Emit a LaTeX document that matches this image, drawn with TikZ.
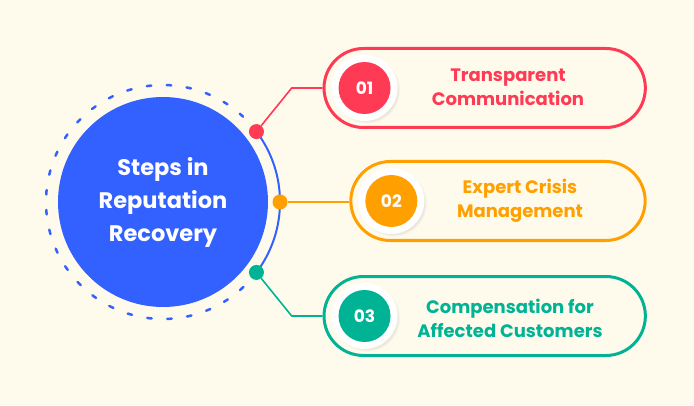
\documentclass[tikz,border=0pt]{standalone}
\usepackage{fontspec}
\setmainfont{Poppins}
\usetikzlibrary{shapes.misc,shadows}
\definecolor{bgcream}{HTML}{FFFBEC}
\definecolor{stepblue}{HTML}{3361FF}
\definecolor{stepred}{HTML}{FF3A55}
\definecolor{steporange}{HTML}{FFA000}
\definecolor{stepgreen}{HTML}{00B394}

\begin{document}
\begin{tikzpicture}[x=1pt,y=1pt,
  hub/.style={circle,fill=stepblue,text=white,minimum size=210pt,inner sep=0pt,
    align=center,font=\bfseries\fontsize{22.5}{33}\selectfont},
  dot/.style={circle,inner sep=0pt,minimum size=15pt},
  pill/.style={rounded rectangle,line width=3pt,fill=bgcream,minimum height=79pt},
  halo/.style={circle,fill=white,minimum size=66pt,inner sep=0pt,
    circular drop shadow={opacity=0.25,shadow xshift=2pt,shadow yshift=-2pt,shadow scale=1.02}},
  num/.style={circle,text=white,minimum size=52pt,inner sep=0pt,
    font=\bfseries\fontsize{17}{20}\selectfont},
  steptext/.style={align=center,font=\bfseries\fontsize{18}{24}\selectfont},
  link/.style={line width=1.6pt}]

  \fill[bgcream] (0,0) rectangle (694,405);
  \useasboundingbox (0,0) rectangle (694,405);

  \node[hub] (hub) at (163,203) {Steps in\\Reputation\\Recovery};
  \draw[stepblue,line width=2pt] (hub.center) ++(-37:117) arc (-37:37:117);
  \draw[stepblue,line width=2.5pt,line cap=round,dash pattern=on 4.5pt off 15.5pt]
    (hub.center) ++(37:117) arc (37:323:117);

  \node[pill,draw=stepred,minimum width=328pt] (p1) at (484.7,317) {};
  \node[pill,draw=steporange,minimum width=301pt] (p2) at (498,204) {};
  \node[pill,draw=stepgreen,minimum width=328pt] (p3) at (484.7,89) {};

  \coordinate (k1) at (291.7,317);
  \coordinate (k3) at (291.7,89);
  \path (hub.center) ++(37:117) node[dot,fill=stepred] (d1) {};
  \path (hub.center) ++(0:117) node[dot,fill=steporange] (d2) {};
  \path (hub.center) ++(-37:117) node[dot,fill=stepgreen] (d3) {};

  \draw[link,stepred] (d1) -- (k1) -- (p1.west);
  \draw[link,steporange] (d2) -- (d2 -| p2.west);
  \draw[link,stepgreen] (d3) -- (k3) -- (p3.west);

  \node[halo] (h1) at ([xshift=42pt]p1.west) {};
  \node[halo] (h2) at ([xshift=42pt]p2.west) {};
  \node[halo] (h3) at ([xshift=42pt]p3.west) {};
  \node[num,fill=stepred] (n1) at (h1) {01};
  \node[num,fill=steporange] (n2) at (h2) {02};
  \node[num,fill=stepgreen] (n3) at (h3) {03};

  \node[steptext,text=stepred] (t1) at (508,318) {Transparent\\Communication};
  \node[steptext,text=steporange] (t2) at (520,204) {Expert Crisis\\Management};
  \node[steptext,text=stepgreen] (t3) at (510,87) {Compensation for\\Affected Customers};
\end{tikzpicture}
\end{document}
